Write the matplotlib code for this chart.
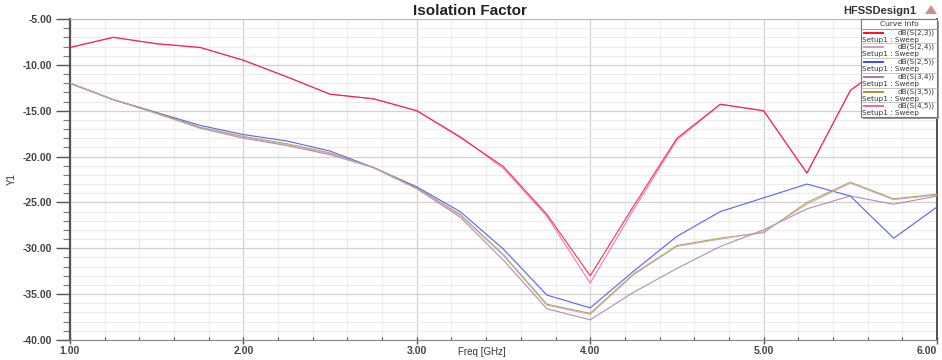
import matplotlib
matplotlib.use("Agg")
import matplotlib.pyplot as plt
from matplotlib.lines import Line2D
from matplotlib.patches import Rectangle, Polygon
from matplotlib.ticker import MultipleLocator, FormatStrFormatter

plt.rcParams["font.family"] = ["Liberation Sans", "DejaVu Sans"]

# sweep points (GHz)
freq = [1.00, 1.25, 1.50, 1.75, 2.00, 2.25, 2.50, 2.75, 3.00, 3.25, 3.50,
        3.75, 4.00, 4.25, 4.50, 4.75, 5.00, 5.25, 5.50, 5.75, 6.00]

s23 = [-8.1, -7.0, -7.7, -8.1, -9.5, -11.3, -13.2, -13.7, -15.0, -17.9, -21.1,
       -26.3, -33.0, -25.4, -18.0, -14.3, -15.0, -21.8, -12.8, -9.3, -8.0]
s24 = [-12.0, -13.8, -15.3, -16.9, -17.9, -18.7, -19.7, -21.2, -23.5, -26.4, -30.8,
       -36.2, -37.2, -32.9, -29.8, -29.0, -28.2, -25.2, -22.9, -24.7, -24.2]
s25 = [-12.0, -13.8, -15.2, -16.6, -17.6, -18.3, -19.4, -21.2, -23.3, -26.0, -30.1,
       -35.1, -36.5, -32.5, -28.7, -26.0, -24.5, -23.0, -24.3, -28.9, -25.5]
s34 = [-12.0, -13.8, -15.3, -16.9, -18.0, -18.8, -19.8, -21.2, -23.5, -26.6, -31.3,
       -36.6, -37.8, -34.8, -32.2, -29.8, -28.0, -25.7, -24.3, -25.2, -24.3]
s35 = [-12.0, -13.8, -15.2, -16.8, -17.8, -18.6, -19.6, -21.2, -23.4, -26.3, -30.7,
       -36.1, -37.1, -32.8, -29.7, -28.9, -28.3, -25.0, -22.8, -24.6, -24.1]
s45 = [-8.1, -7.0, -7.7, -8.1, -9.5, -11.3, -13.2, -13.7, -15.0, -17.8, -21.3,
       -26.5, -33.8, -25.8, -18.2, -14.3, -15.0, -21.8, -12.8, -9.3, -8.0]

names = ["dB(S(2,3))", "dB(S(2,4))", "dB(S(2,5))", "dB(S(3,4))", "dB(S(3,5))", "dB(S(4,5))"]
curves = [s23, s24, s25, s34, s35, s45]
colors = ["#ff0a2a", "#c8a0bc", "#3c46ff", "#a679ad", "#a59a2a", "#f060b8"]
zorders = [6, 4, 3, 3, 3, 5]

W, H = 942, 360
P = 0.72  # points per pixel at 100 dpi
fig = plt.figure(figsize=(W / 100, H / 100), dpi=100)
fig.patch.set_facecolor("white")
ax = fig.add_axes([70 / W, 20 / H, 867 / W, 321 / H])

for ys, c, n, z in zip(curves, colors, names, zorders):
    ax.plot(freq, ys, color=c, lw=0.8, alpha=0.85, label=n, zorder=z)

ax.set_xlim(1.0, 6.0)
ax.set_ylim(-40.0, -5.0)
ax.set_xticks([1, 2, 3, 4, 5, 6])
ax.xaxis.set_minor_locator(MultipleLocator(0.2))
ax.yaxis.set_major_locator(MultipleLocator(5.0))
ax.yaxis.set_minor_locator(MultipleLocator(1.0))
ax.xaxis.set_major_formatter(FormatStrFormatter("%.2f"))
ax.yaxis.set_major_formatter(FormatStrFormatter("%.2f"))

ax.grid(which="major", color="#d2d2d2", lw=0.9)
ax.grid(which="minor", color="#ececec", lw=0.8)
ax.set_axisbelow(True)

ax.tick_params(axis="y", which="major", direction="out", length=14 * P, width=1.0,
               color="#555555", labelsize=7.5, labelcolor="#444444", pad=4 * P)
ax.tick_params(axis="y", which="minor", direction="out", length=7 * P, width=0.8, color="#777777")
ax.tick_params(axis="x", which="major", direction="inout", length=7 * P, width=1.0,
               color="#555555", labelsize=7.5, labelcolor="#444444", pad=2)
ax.tick_params(axis="x", which="minor", direction="in", length=3 * P, width=0.8, color="#555555")
fig.canvas.draw()
for lbl in ax.get_xticklabels() + ax.get_yticklabels():
    lbl.set_fontweight("bold")
ax.get_xticklabels()[-1].set_horizontalalignment("right")

ax.spines["left"].set_color("#555555")
ax.spines["left"].set_linewidth(1.6)
ax.spines["bottom"].set_color("#888888")
ax.spines["top"].set_color("#bbbbbb")
ax.spines["right"].set_color("#444444")
ax.spines["right"].set_linewidth(1.3)

ax.set_xlabel("Freq [GHz]", fontsize=7, color="#333333", va="center")
ax.set_ylabel("Y1", fontsize=7, color="#333333", va="center")
ax.xaxis.set_label_coords(0.475, -12 / 321)
ax.yaxis.set_label_coords(-58 / 867, 0.5)

fig.text(470 / W, 1 - 11 / H, "Isolation Factor", ha="center", va="center",
         fontsize=11, fontweight="bold", color="#222222")
fig.text(916 / W, 1 - 11 / H, "HFSSDesign1", ha="right", va="center",
         fontsize=8, fontweight="bold", color="#333333")
fig.patches.append(Polygon([(925 / W, 1 - 14 / H), (937 / W, 1 - 14 / H), (931 / W, 1 - 5 / H)],
                           closed=True, transform=fig.transFigure,
                           facecolor="#b04048", edgecolor="none", alpha=0.6))


# curve-info box drawn in figure pixel units
def px(x, y):
    return x / W, 1 - y / H


LEG_FONT = ["DejaVu Sans"]
bx0, by0, bx1, by1 = 861, 19, 937, 117
fig.patches.append(Rectangle(px(bx0 + 2, by1 + 2), (bx1 - bx0) / W, (by1 - by0) / H,
                             transform=fig.transFigure, facecolor="#999999",
                             edgecolor="none", zorder=5))
fig.patches.append(Rectangle(px(bx0, by1), (bx1 - bx0) / W, (by1 - by0) / H,
                             transform=fig.transFigure, facecolor="white",
                             edgecolor="#777777", lw=0.8, zorder=6))
fig.text(*px((bx0 + bx1) / 2, 23.5), "Curve Info", ha="center", va="center",
         fontsize=5.4, color="#333333", zorder=7, family=LEG_FONT)
fig.lines.append(Line2D([bx0 / W, bx1 / W], [1 - 28.5 / H] * 2, transform=fig.transFigure,
                        color="#999999", lw=0.7, zorder=7))
row = 14.75
for i, (n, c) in enumerate(zip(names, colors)):
    top = 28.5 + i * row
    fig.lines.append(Line2D([(bx0 + 3) / W, (bx0 + 22) / W], [1 - (top + 4) / H] * 2,
                            transform=fig.transFigure, color=c, lw=1.4, zorder=7))
    fig.text(*px(bx1 - 2, top + 4), n, ha="right", va="center", fontsize=5.2,
             color="#333333", zorder=7, family=LEG_FONT)
    fig.text(*px(bx0 + 1.5, top + 11.2), "Setup1 : Sweep", ha="left", va="center",
             fontsize=5.2, color="#333333", zorder=7, family=LEG_FONT)
    if i < len(names) - 1:
        fig.lines.append(Line2D([bx0 / W, bx1 / W], [1 - (top + row) / H] * 2,
                                transform=fig.transFigure, color="#bbbbbb", lw=0.6, zorder=7))

fig.savefig("out.png", dpi=100, facecolor="white")
